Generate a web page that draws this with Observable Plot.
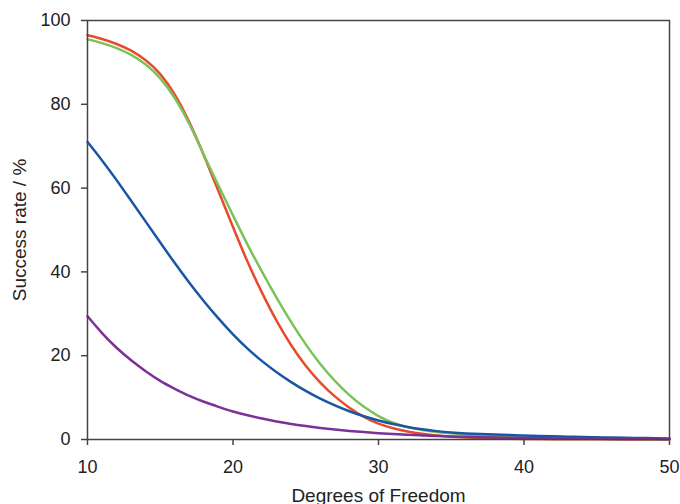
<!DOCTYPE html>
<html>
<head>
<meta charset="utf-8">
<script src="https://cdn.jsdelivr.net/npm/d3@7"></script>
<script src="https://cdn.jsdelivr.net/npm/@observablehq/plot@0.6"></script>
<style>
  html, body { margin: 0; padding: 0; background: #fff; }
</style>
</head>
<body>
<div id="chart"></div>
<script>
const dof = d3.range(10, 51);
const seriesNames = ["series A", "series B", "series C", "series D"];
const seriesColors = ["#e84b2c", "#7cc25a", "#1a56a6", "#7b3195"];
const seriesA = [96.5, 95.6, 94.4, 92.8, 90.5, 87.2, 82.3, 75.7, 67.8, 59.3,
  50.7, 42.4, 35.0, 28.3, 22.5, 17.6, 13.6, 10.3, 7.6, 5.4,
  3.8, 2.7, 1.9, 1.35, 0.95, 0.68, 0.48, 0.34, 0.24, 0.17,
  0.12, 0.09, 0.07, 0.055, 0.045, 0.038, 0.032, 0.027, 0.023, 0.02, 0.018];
const seriesB = [95.5, 94.6, 93.4, 91.8, 89.5, 86.2, 81.5, 75.3, 67.9, 60.6,
  53.5, 46.5, 40.0, 33.8, 28.0, 22.7, 18.0, 14.0, 10.6, 7.8,
  5.6, 4.0, 2.95, 2.25, 1.8, 1.48, 1.22, 1.0, 0.8, 0.64,
  0.5, 0.4, 0.32, 0.26, 0.21, 0.17, 0.14, 0.12, 0.1, 0.085, 0.07];
const seriesC = [71.0, 66.6, 61.9, 57.0, 52.0, 47.0, 42.1, 37.4, 33.0, 28.9,
  25.1, 21.7, 18.7, 16.05, 13.7, 11.6, 9.75, 8.15, 6.75, 5.55,
  4.55, 3.7, 3.0, 2.45, 2.0, 1.67, 1.45, 1.3, 1.17, 1.05,
  0.95, 0.85, 0.76, 0.68, 0.6, 0.53, 0.46, 0.4, 0.35, 0.3, 0.26];
const seriesD = [29.4, 25.4, 21.9, 18.9, 16.3, 14.0, 12.1, 10.4, 9.0, 7.8,
  6.7, 5.8, 5.0, 4.3, 3.7, 3.2, 2.75, 2.37, 2.05, 1.77,
  1.52, 1.31, 1.13, 0.98, 0.84, 0.73, 0.63, 0.54, 0.46, 0.4,
  0.35, 0.3, 0.26, 0.22, 0.19, 0.16, 0.14, 0.12, 0.1, 0.09, 0.08];
const xTicks = [10, 20, 30, 40, 50];
const yTicks = [0, 20, 40, 60, 80, 100];

const allValues = [seriesA, seriesB, seriesC, seriesD];
const rows = [];
allValues.forEach((vals, i) => {
  vals.forEach((v, j) => rows.push({series: seriesNames[i], x: dof[j], y: v}));
});

const chart = Plot.plot({
  width: 680,
  height: 504,
  marginLeft: 87,
  marginRight: 11,
  marginTop: 20,
  marginBottom: 65,
  style: {fontFamily: "'Liberation Sans', Arial, sans-serif", fontSize: "18px", color: "#222", background: "#fff"},
  x: {domain: [10, 50]},
  y: {domain: [0, 100]},
  color: {domain: seriesNames, range: seriesColors},
  marks: [
    Plot.axisX({ticks: xTicks, tickSize: 6, tickPadding: 15, fontSize: 18, stroke: "#444", strokeWidth: 1.5,
      label: null}),
    Plot.axisX({ticks: [], label: "Degrees of Freedom", labelAnchor: "center", labelArrow: "none",
      labelOffset: 62, fontSize: 19}),
    Plot.axisY({ticks: yTicks, tickSize: 6, tickPadding: 11, fontSize: 18, stroke: "#444", strokeWidth: 1.5,
      label: null}),
    Plot.axisY({ticks: [], label: "Success rate / %", labelAnchor: "center", labelArrow: "none",
      labelOffset: 75, fontSize: 19}),
    Plot.line(rows, {x: "x", y: "y", z: "series", stroke: "series", strokeWidth: 2.5, curve: "natural"}),
    Plot.frame({stroke: "#444", strokeWidth: 1.5})
  ]
});
document.getElementById("chart").appendChild(chart);
</script>
</body>
</html>
